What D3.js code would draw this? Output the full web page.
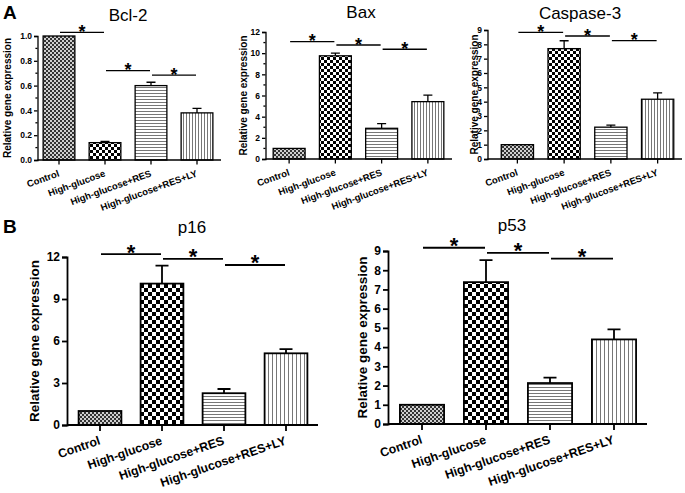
<!DOCTYPE html>
<meta charset="utf-8">
<style>
  body { margin: 0; background: #fff; }
  svg text { font-family: "Liberation Sans", Arial, sans-serif; }
</style>

<script src="https://d3js.org/d3.v7.min.js"></script>

<div id="chart"></div>

<script>
// groups on the x axis
const categories = ["Control", "High-glucose", "High-glucose+RES", "High-glucose+RES+LY"];

// means and SD (upper error bar only)
const bcl2Values = [1.0, 0.14, 0.60, 0.38];
const bcl2Errors = [0, 0.01, 0.027, 0.036];
const baxValues = [1.0, 9.75, 2.9, 5.42];
const baxErrors = [0, 0.25, 0.45, 0.62];
const casp3Values = [1.0, 7.7, 2.22, 4.17];
const casp3Errors = [0, 0.55, 0.15, 0.45];
const p16Values = [1.0, 10.1, 2.27, 5.12];
const p16Errors = [0, 1.28, 0.3, 0.3];
const p53Values = [1.0, 7.38, 2.13, 4.4];
const p53Errors = [0, 1.15, 0.28, 0.52];

// height of the significance bars (control-HG, HG-RES, RES-LY)
const bcl2Sig = [1.03, 0.72, 0.685];
const baxSig = [11.09, 10.77, 10.37];
const casp3Sig = [8.84, 8.58, 8.26];
const p16Sig = [12.2, 11.86, 11.43];
const p53Sig = [9.17, 8.9, 8.6];

// y tick values
const bcl2Ticks = [0, 0.2, 0.4, 0.6, 0.8, 1.0];
const bcl2Minor = [0.1, 0.3, 0.5, 0.7, 0.9];
const baxTicks = [0, 2, 4, 6, 8, 10, 12];
const baxMinor = [1, 3, 5, 7, 9, 11];
const casp3Ticks = [0, 1, 2, 3, 4, 5, 6, 7, 8, 9];
const p16Ticks = [0, 3, 6, 9, 12];
const p53Ticks = [0, 1, 2, 3, 4, 5, 6, 7, 8, 9];

const yLabel = "Relative gene expression";

var svg = d3.select("#chart")
  .append("svg")
    .attr("width", 685)
    .attr("height", 493);

// style sets for the two rows
var sizeA = {key: "a", tick: 3.5, tickFont: 8.5, labelFont: 10, catFont: 9.5, catDy: 16, catAngle: -20, starFont: 18,
             stroke: 1.3, cap: 4.5, checker: 3, vline: 3};
var sizeB = {key: "b", tick: 5, tickFont: 12, labelFont: 13.5, catFont: 12.3, catDy: 19, catAngle: -19, starFont: 22,
             stroke: 1.8, cap: 6.5, checker: 4, vline: 4};

var defs = svg.append("defs");
[sizeA, sizeB].forEach(function(s) {
  // fine grey checker (control)
  var p = defs.append("pattern").attr("id", "ctl" + s.key).attr("patternUnits", "userSpaceOnUse")
    .attr("width", 4).attr("height", 4);
  p.append("rect").attr("width", 4).attr("height", 4).attr("fill", "#cfcfcf");
  p.append("rect").attr("width", 2).attr("height", 2).attr("fill", "#333");
  p.append("rect").attr("x", 2).attr("y", 2).attr("width", 2).attr("height", 2).attr("fill", "#333");
  // coarse black/white checker (high glucose)
  var c = s.checker;
  p = defs.append("pattern").attr("id", "hg" + s.key).attr("patternUnits", "userSpaceOnUse")
    .attr("width", 2 * c).attr("height", 2 * c);
  p.append("rect").attr("width", 2 * c).attr("height", 2 * c).attr("fill", "#fff");
  p.append("rect").attr("width", c).attr("height", c).attr("fill", "#000");
  p.append("rect").attr("x", c).attr("y", c).attr("width", c).attr("height", c).attr("fill", "#000");
  // horizontal lines (RES)
  p = defs.append("pattern").attr("id", "res" + s.key).attr("patternUnits", "userSpaceOnUse")
    .attr("width", 4).attr("height", 3);
  p.append("rect").attr("width", 4).attr("height", 3).attr("fill", "#fff");
  p.append("rect").attr("width", 4).attr("height", 1).attr("fill", "#777");
  // vertical lines (RES+LY)
  var v = s.vline;
  p = defs.append("pattern").attr("id", "ly" + s.key).attr("patternUnits", "userSpaceOnUse")
    .attr("width", v).attr("height", 4);
  p.append("rect").attr("width", v).attr("height", 4).attr("fill", "#fff");
  p.append("rect").attr("width", 1).attr("height", 4).attr("fill", "#777");
});
var patternIds = ["ctl", "hg", "res", "ly"];

var panels = [
  {title: "Bcl-2", values: bcl2Values, errors: bcl2Errors, sig: bcl2Sig, ymax: 1, ticks: bcl2Ticks, minor: bcl2Minor,
   fmt: d3.format(".1f"), size: sizeA, axisX: 37.5, band: [36, 220], yRange: [160, 36], titleX: 128, titleY: 21, labelX: 11},
  {title: "Bax", values: baxValues, errors: baxErrors, sig: baxSig, ymax: 12, ticks: baxTicks, minor: baxMinor,
   fmt: d3.format("d"), size: sizeA, axisX: 265.5, band: [266, 451], yRange: [159, 32], titleX: 361, titleY: 18, labelX: 247},
  {title: "Caspase-3", values: casp3Values, errors: casp3Errors, sig: casp3Sig, ymax: 9, ticks: casp3Ticks, minor: [],
   fmt: d3.format("d"), size: sizeA, axisX: 487.5, band: [494, 681], yRange: [159, 30], titleX: 580, titleY: 19, labelX: 478},
  {title: "p16", values: p16Values, errors: p16Errors, sig: p16Sig, ymax: 12, ticks: p16Ticks, minor: [],
   fmt: d3.format("d"), size: sizeB, axisX: 67, band: [69, 317], yRange: [425, 257], titleX: 192, titleY: 233, labelX: 39},
  {title: "p53", values: p53Values, errors: p53Errors, sig: p53Sig, ymax: 9, ticks: p53Ticks, minor: [],
   fmt: d3.format("d"), size: sizeB, axisX: 388, band: [390, 646], yRange: [424, 251], titleX: 512, titleY: 231, labelX: 367}
];

function drawPanel(p) {
  var s = p.size;
  var x = d3.scaleBand().domain(categories).range(p.band).paddingInner(0.31).paddingOuter(0.155);
  var y = d3.scaleLinear().domain([0, p.ymax]).range(p.yRange);
  var g = svg.append("g");
  var cx = function(i) { return x(categories[i]) + x.bandwidth() / 2; };

  // bars
  g.selectAll(".bar")
    .data(p.values)
    .enter()
    .append("rect")
      .attr("x", function(d, i) { return x(categories[i]); })
      .attr("y", function(d) { return y(d); })
      .attr("width", x.bandwidth())
      .attr("height", function(d) { return y(0) - y(d); })
      .attr("fill", function(d, i) { return "url(#" + patternIds[i] + s.key + ")"; })
      .attr("stroke", "#000")
      .attr("stroke-width", s.stroke);

  // error bars (upper half only)
  p.values.forEach(function(v, i) {
    var e = p.errors[i];
    if (!e) return;
    g.append("path")
      .attr("d", "M" + cx(i) + "," + y(v) + "V" + y(v + e) + "M" + (cx(i) - s.cap) + "," + y(v + e) + "H" + (cx(i) + s.cap))
      .attr("stroke", "#000")
      .attr("stroke-width", s.stroke)
      .attr("fill", "none");
  });

  // y axis
  var ya = g.append("g")
    .attr("transform", "translate(" + p.axisX + ",0)")
    .call(d3.axisLeft(y).tickValues(p.ticks).tickFormat(p.fmt).tickSize(s.tick).tickPadding(2));
  ya.selectAll("path, line").attr("stroke-width", s.stroke);
  ya.selectAll("text")
    .attr("font-family", "Liberation Sans, Arial, sans-serif")
    .attr("font-size", s.tickFont)
    .attr("font-weight", "bold");
  ya.selectAll(".minor")
    .data(p.minor)
    .enter()
    .append("line")
      .attr("x1", -s.tick * 0.6).attr("x2", 0)
      .attr("y1", function(d) { return y(d); })
      .attr("y2", function(d) { return y(d); })
      .attr("stroke", "#000")
      .attr("stroke-width", s.stroke);

  // x axis
  g.append("line")
    .attr("x1", p.axisX).attr("x2", p.band[1] + 1)
    .attr("y1", y(0)).attr("y2", y(0))
    .attr("stroke", "#000").attr("stroke-width", s.stroke);
  categories.forEach(function(c, i) {
    g.append("line")
      .attr("x1", cx(i)).attr("x2", cx(i))
      .attr("y1", y(0)).attr("y2", y(0) + s.tick + 1)
      .attr("stroke", "#000").attr("stroke-width", s.stroke);
    g.append("text")
      .attr("transform", "translate(" + (cx(i) + 1) + "," + (y(0) + s.catDy) + ") rotate(" + s.catAngle + ")")
      .attr("text-anchor", "end")
      .attr("font-size", s.catFont)
      .attr("font-weight", "bold")
      .text(c);
  });

  // significance bars
  p.sig.forEach(function(h, i) {
    var x1 = cx(i) + 1, x2 = cx(i + 1) - 1;
    g.append("line")
      .attr("x1", x1).attr("x2", x2)
      .attr("y1", y(h)).attr("y2", y(h))
      .attr("stroke", "#000").attr("stroke-width", s.stroke);
    g.append("text")
      .attr("x", (x1 + x2) / 2)
      .attr("y", y(h) + 5.5)
      .attr("text-anchor", "middle")
      .attr("font-size", s.starFont)
      .attr("font-weight", "bold")
      .text("*");
  });

  // titles
  g.append("text")
    .attr("x", p.titleX).attr("y", p.titleY)
    .attr("text-anchor", "middle")
    .attr("font-size", 17)
    .text(p.title);
  g.append("text")
    .attr("transform", "translate(" + p.labelX + "," + ((p.yRange[0] + p.yRange[1]) / 2) + ") rotate(-90)")
    .attr("text-anchor", "middle")
    .attr("font-size", s.labelFont)
    .attr("font-weight", "bold")
    .text(yLabel);
}

panels.forEach(drawPanel);

// panel letters
svg.append("text").attr("x", 3).attr("y", 19).attr("font-size", 19).attr("font-weight", "bold").text("A");
svg.append("text").attr("x", 3).attr("y", 233).attr("font-size", 19).attr("font-weight", "bold").text("B");
</script>
